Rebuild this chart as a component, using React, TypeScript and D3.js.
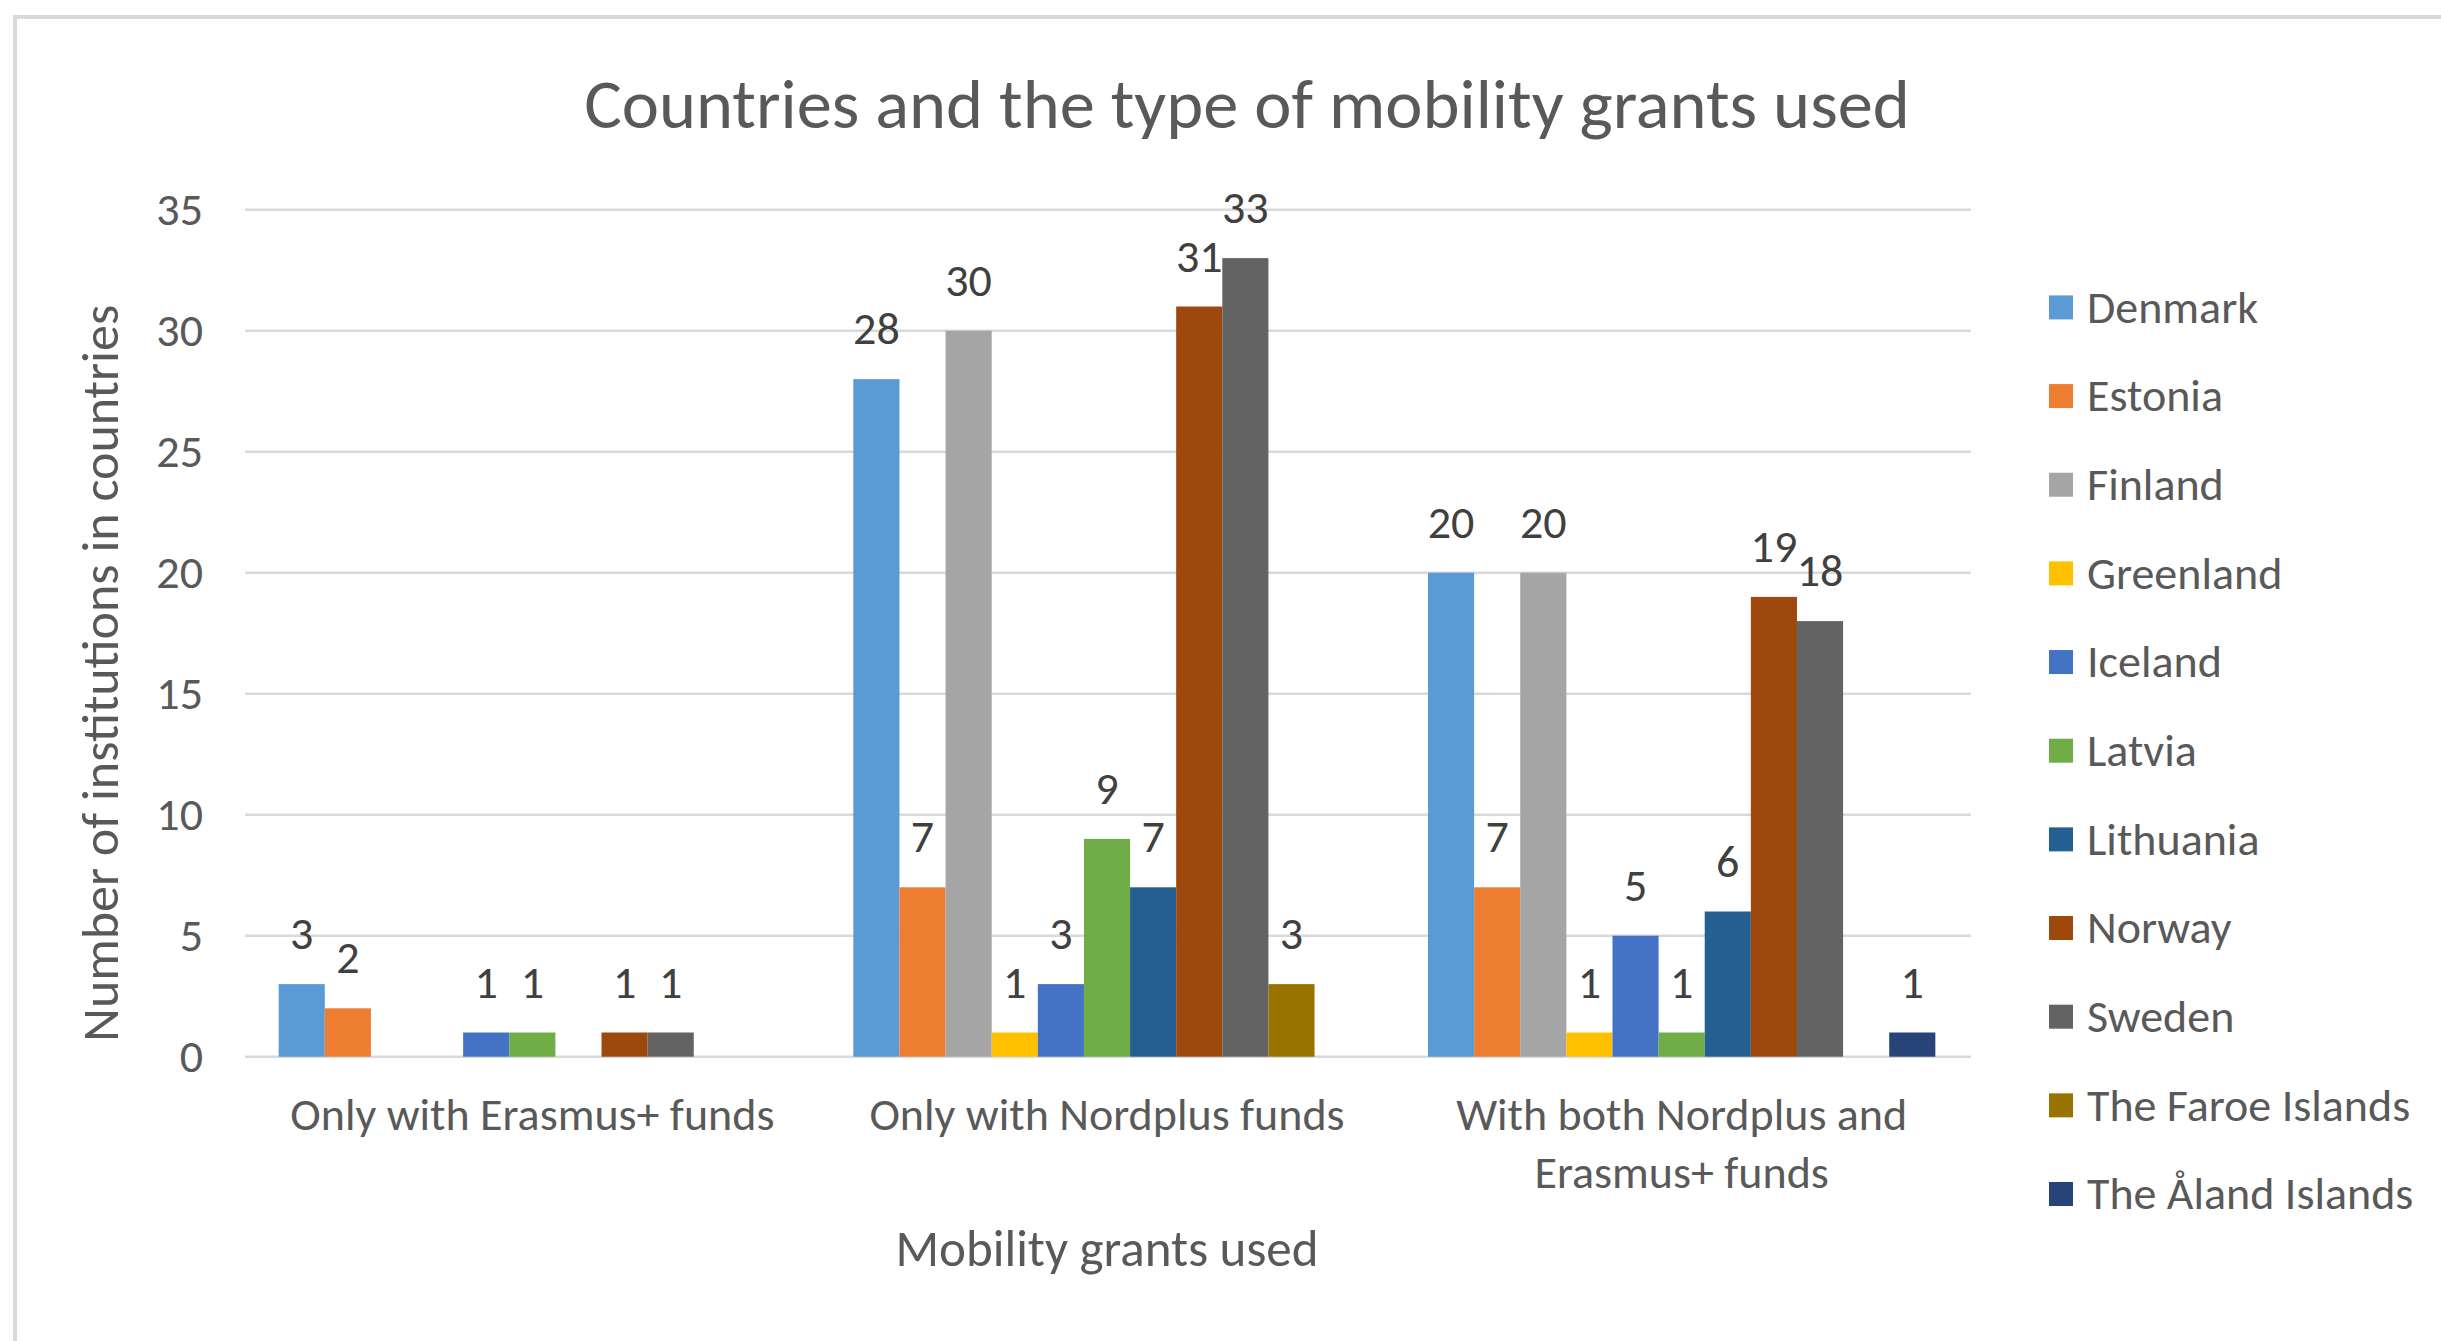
import * as d3 from 'd3';

// Chart data
const GROUPS = [
  'Only with Erasmus+ funds',
  'Only with Nordplus funds',
  'With both Nordplus and Erasmus+ funds',
];

// Category labels as Excel wrapped them
const GROUP_LINES: string[][] = [
  ['Only with Erasmus+ funds'],
  ['Only with Nordplus funds'],
  ['With both Nordplus and', 'Erasmus+ funds'],
];

const COUNTRIES = [
  'Denmark',
  'Estonia',
  'Finland',
  'Greenland',
  'Iceland',
  'Latvia',
  'Lithuania',
  'Norway',
  'Sweden',
  'The Faroe Islands',
  'The Åland Islands',
];

// One value per country, in COUNTRIES order
const ERASMUS_ONLY = [3, 2, 0, 0, 1, 1, 0, 1, 1, 0, 0];
const NORDPLUS_ONLY = [28, 7, 30, 1, 3, 9, 7, 31, 33, 3, 0];
const BOTH_FUNDS = [20, 7, 20, 1, 5, 1, 6, 19, 18, 0, 1];

const SERIES = [ERASMUS_ONLY, NORDPLUS_ONLY, BOTH_FUNDS];

const Y_TICKS = [0, 5, 10, 15, 20, 25, 30, 35];

// Office default palette
const COLORS = [
  '#5B9BD5',
  '#ED7D31',
  '#A5A5A5',
  '#FFC000',
  '#4472C4',
  '#70AD47',
  '#255E91',
  '#9E480E',
  '#636363',
  '#997300',
  '#264478',
];

const WIDTH = 2441;
const HEIGHT = 1341;
const FONT = "Carlito, Calibri, Lato, sans-serif";
const TEXT = '#595959';
const LABEL = '#404040';
const GRID = '#D9D9D9';

const plot = { left: 245, right: 1969, top: 209.7, bottom: 1056.7 };

export default function App() {
  const y = d3.scaleLinear().domain([0, 35]).range([plot.bottom, plot.top]);

  const x0 = d3.scaleBand<string>().domain(GROUPS).range([plot.left, plot.right]);

  const x1 = d3
    .scaleBand<string>()
    .domain(COUNTRIES)
    .range([0, x0.bandwidth()])
    .paddingInner(0)
    .paddingOuter(0.73);

  const legendY = d3.scalePoint<string>().domain(COUNTRIES).range([307.4, 1194]);

  return (
    <svg
      width={WIDTH}
      height={HEIGHT}
      style={{ position: 'absolute', left: 0, top: 0, display: 'block', background: '#fff' }}
      fontFamily={FONT}
    >
      {/* chart area border, only left/top visible in the crop */}
      <rect x={15} y={17} width={WIDTH + 40} height={HEIGHT + 40} fill="#fff" stroke={GRID} strokeWidth={4} />

      <text x={1247} y={128} textAnchor="middle" fontSize={70.5} fill={TEXT}>
        Countries and the type of mobility grants used
      </text>

      {/* gridlines + y tick labels */}
      {Y_TICKS.map(t => (
        <g key={t}>
          <line x1={plot.left} x2={plot.right + 2} y1={y(t)} y2={y(t)} stroke={GRID} strokeWidth={2.5} />
          <text x={203} y={y(t)} dy="0.33em" textAnchor="end" fontSize={46} fill={TEXT}>
            {t}
          </text>
        </g>
      ))}

      {/* bars */}
      {GROUPS.map((g, gi) => (
        <g key={g} transform={`translate(${x0(g)},0)`}>
          {COUNTRIES.map((c, ci) => {
            const v = SERIES[gi][ci];
            if (!v) return null;
            const bx = x1(c) ?? 0;
            return (
              <g key={c}>
                <rect x={bx} y={y(v)} width={x1.bandwidth()} height={y(0) - y(v)} fill={COLORS[ci]} />
                <text
                  x={bx + x1.bandwidth() / 2}
                  y={y(v) - 35}
                  textAnchor="middle"
                  fontSize={46}
                  fill={LABEL}
                >
                  {v}
                </text>
              </g>
            );
          })}
        </g>
      ))}

      {/* category labels */}
      {GROUPS.map((g, gi) => (
        <text
          key={g}
          x={(x0(g) ?? 0) + x0.bandwidth() / 2}
          y={1130}
          textAnchor="middle"
          fontSize={46}
          fill={TEXT}
        >
          {GROUP_LINES[gi].map((line, li) => (
            <tspan key={li} x={(x0(g) ?? 0) + x0.bandwidth() / 2} dy={li === 0 ? 0 : 58}>
              {line}
            </tspan>
          ))}
        </text>
      ))}

      {/* axis titles */}
      <text x={(plot.left + plot.right) / 2} y={1266} textAnchor="middle" fontSize={51} fill={TEXT}>
        Mobility grants used
      </text>
      <text
        transform={`translate(118, ${(plot.top + plot.bottom) / 2 + 40}) rotate(-90)`}
        textAnchor="middle"
        fontSize={52}
        fill={TEXT}
      >
        Number of institutions in countries
      </text>

      {/* legend */}
      {COUNTRIES.map((c, ci) => {
        const ly = legendY(c) ?? 0;
        return (
          <g key={c}>
            <rect x={2049} y={ly - 12} width={24} height={24} fill={COLORS[ci]} />
            <text x={2087} y={ly} dy="0.33em" fontSize={46} fill={TEXT}>
              {c}
            </text>
          </g>
        );
      })}
    </svg>
  );
}
